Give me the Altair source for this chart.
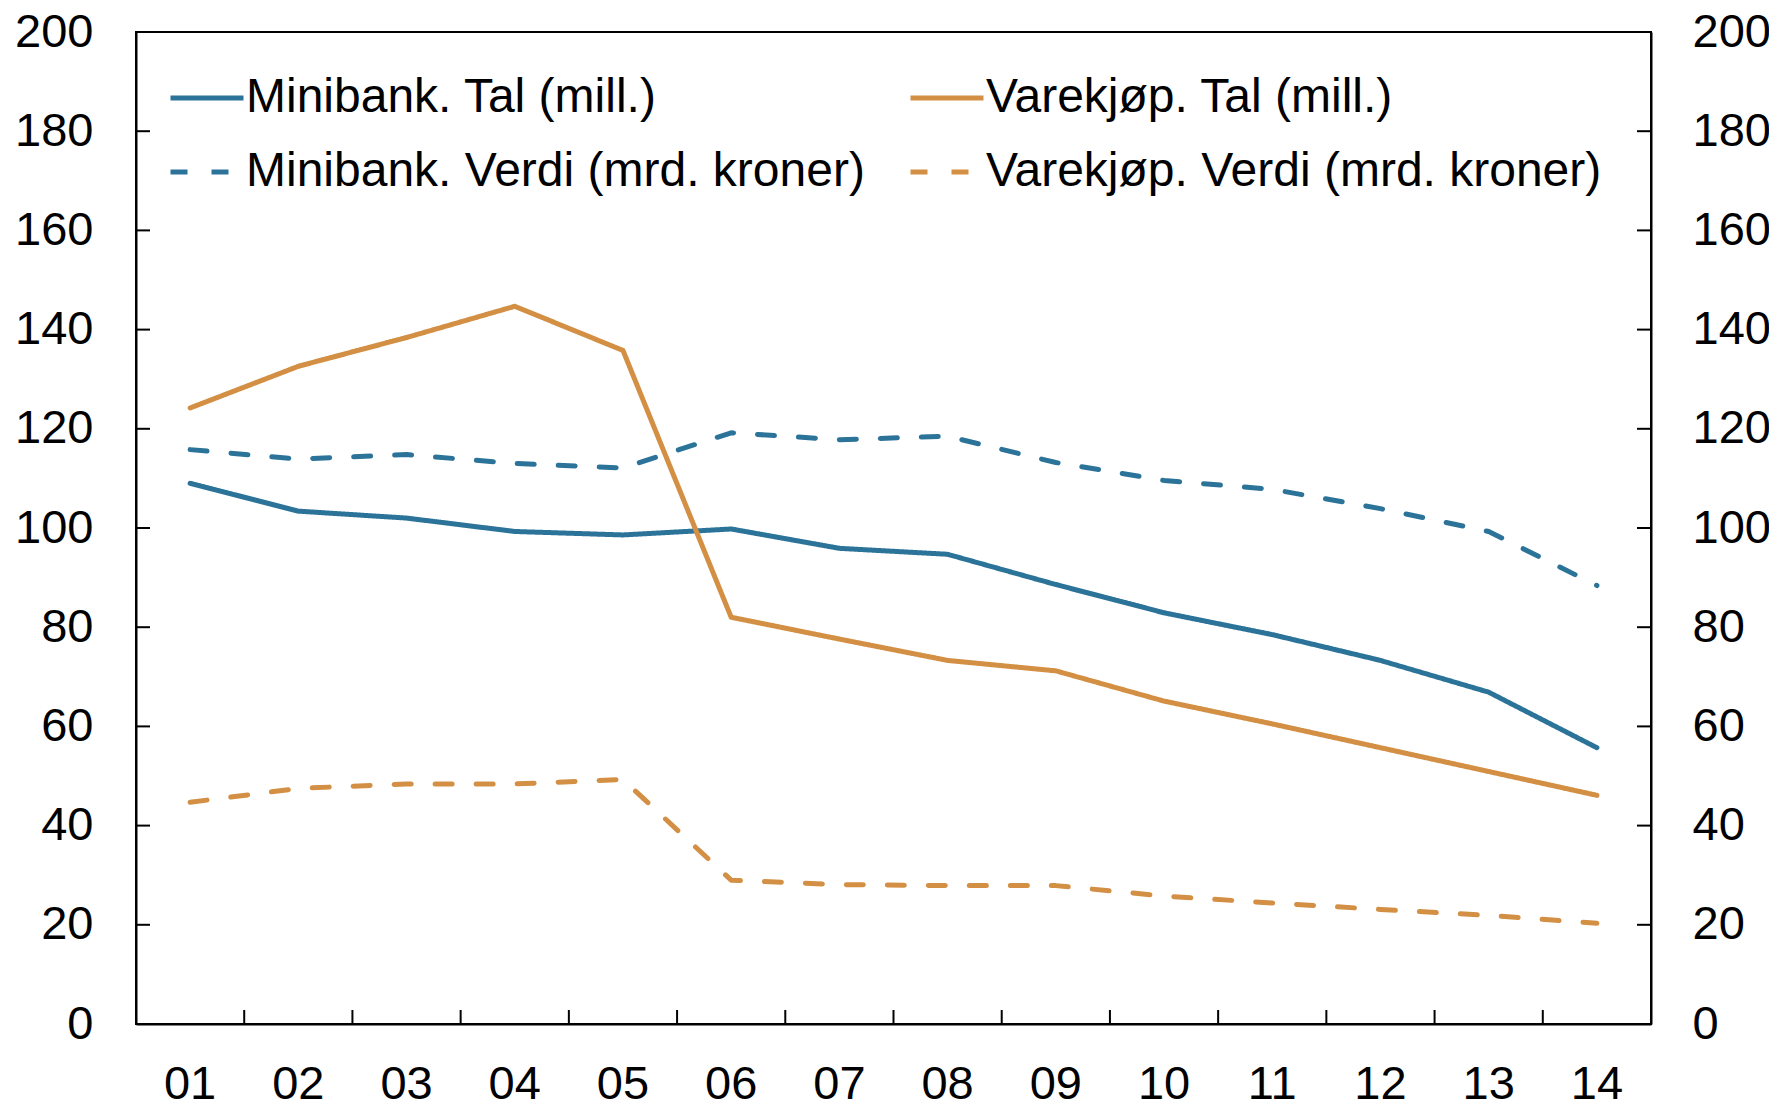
import altair as alt
import pandas as pd

# ---- data ----
years = ["01", "02", "03", "04", "05", "06", "07", "08", "09", "10", "11", "12", "13", "14"]
minibank_tal = [109.0, 103.4, 102.0, 99.3, 98.6, 99.8, 95.9, 94.7, 88.6, 82.9, 78.5, 73.3, 66.9, 55.7]
minibank_verdi = [115.8, 113.9, 114.8, 113.0, 112.1, 119.2, 117.8, 118.5, 113.2, 109.6, 107.8, 103.9, 99.3, 88.4]
varekjop_tal = [124.2, 132.6, 138.4, 144.7, 135.8, 82.0, 77.6, 73.3, 71.2, 65.1, 60.5, 55.7, 50.9, 46.1]
varekjop_verdi = [44.7, 47.5, 48.4, 48.4, 49.3, 29.0, 28.1, 27.9, 27.9, 25.8, 24.4, 23.1, 21.9, 20.3]

series_names = [
    "Minibank. Tal (mill.)",
    "Varekjøp. Tal (mill.)",
    "Minibank. Verdi (mrd. kroner)",
    "Varekjøp. Verdi (mrd. kroner)",
]
series_values = [minibank_tal, varekjop_tal, minibank_verdi, varekjop_verdi]
y_ticks = [0, 20, 40, 60, 80, 100, 120, 140, 160, 180, 200]

# ---- styling ----
BLUE = "#2c7399"
ORANGE = "#d38f44"
colors = [BLUE, ORANGE, BLUE, ORANGE]
dashes = [[1, 0], [1, 0], [17, 24], [17, 24]]
FONT = "Liberation Sans"
FS = 47
W, H = 1515, 992
TICK = 14

rows = []
for name, vals in zip(series_names, series_values):
    for yr, v in zip(years, vals):
        rows.append({"year": yr, "value": v, "series": name})
df = pd.DataFrame(rows)

xb = pd.DataFrame({"year": years[1:]})
yt = pd.DataFrame({"t": y_ticks})

xscale = alt.Scale(type="band", domain=years, paddingInner=0, paddingOuter=0)
yscale = alt.Scale(domain=[0, 200], nice=False)

x_axis = alt.Axis(orient="bottom", title=None, ticks=False, tickSize=0, labelPadding=37,
                  grid=False, labelAngle=0, zindex=1)

legend = alt.Legend(
    title=None, orient="none", legendX=32, legendY=27, columns=2, direction="horizontal",
    symbolType="stroke", symbolSize=5329, symbolStrokeWidth=5,
    labelFont=FONT, labelFontSize=48, labelColor="black", labelLimit=2000,
    columnPadding=35, rowPadding=11, labelOffset=0, padding=0,
)

lines = alt.Chart(df).mark_line(strokeWidth=5, strokeCap="round", strokeJoin="round").encode(
    x=alt.X("year:O", scale=xscale, sort=years, bandPosition=0.5, axis=x_axis),
    y=alt.Y("value:Q", scale=yscale,
            axis=alt.Axis(values=y_ticks, title=None, ticks=False, tickSize=0,
                          labelPadding=43, grid=False)),
    color=alt.Color("series:N", sort=series_names,
                    scale=alt.Scale(domain=series_names, range=colors), legend=legend),
    strokeDash=alt.StrokeDash("series:N", sort=series_names,
                              scale=alt.Scale(domain=series_names, range=dashes), legend=legend),
)

x_ticks = alt.Chart(xb).mark_rule(color="black", strokeWidth=2).encode(
    x=alt.X("year:O", scale=xscale, sort=years, bandPosition=0, axis=x_axis),
    y=alt.value(H - TICK), y2=alt.value(H),
)

left_ticks = alt.Chart(yt).mark_rule(color="black", strokeWidth=2).encode(
    y=alt.Y("t:Q", scale=yscale, axis=None),
    x=alt.value(0), x2=alt.value(TICK),
)

right_ticks = alt.Chart(yt).mark_rule(color="black", strokeWidth=2).encode(
    y=alt.Y("t:Q", scale=yscale,
            axis=alt.Axis(orient="right", values=y_ticks, title=None, ticks=False, tickSize=0,
                          labelPadding=41, grid=False)),
    x=alt.value(W - TICK), x2=alt.value(W),
)

chart = alt.layer(x_ticks, left_ticks, right_ticks, lines).resolve_scale(
    y="independent"
).properties(
    width=W, height=H,
    autosize=alt.AutoSizeParams(type="none"),
    padding={"left": 128, "top": 24, "right": 118, "bottom": 80},
).configure_view(
    stroke="black", strokeWidth=2
).configure_axis(
    labelFont=FONT, labelFontSize=FS, labelColor="black",
    domainColor="black", domainWidth=2, labelFlush=False, labelOverlap=False,
)

chart.save("out.html", embed_options={"renderer": "svg", "actions": False})
